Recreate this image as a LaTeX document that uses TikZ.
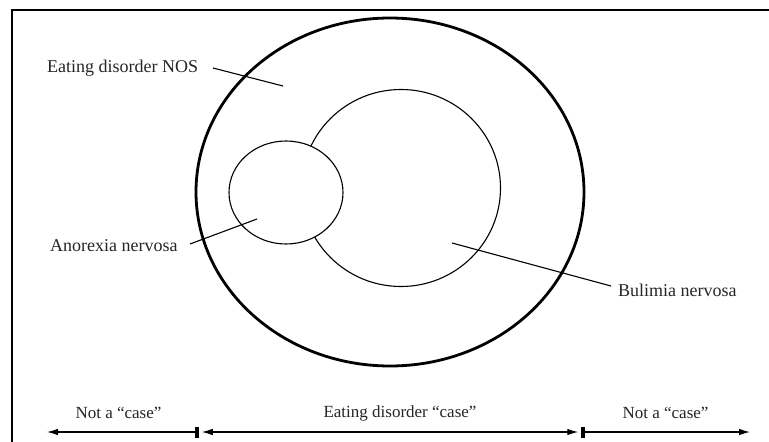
\documentclass[tikz,border=0pt]{standalone}
\usepackage{fontspec}
\setmainfont{Liberation Serif}
\usetikzlibrary{shapes.geometric,arrows.meta}
\begin{document}
\begin{tikzpicture}[x=1pt,y=-1pt,
  lbl/.style={inner sep=0pt,font=\fontsize{18}{20}\selectfont,text=black!85},
  blbl/.style={inner sep=0pt,font=\fontsize{17}{19}\selectfont,text=black!85},
  thickell/.style={ellipse,draw,line width=2.8pt,inner sep=0pt},
  thinell/.style={ellipse,draw,line width=1.1pt,inner sep=0pt,fill=white},
  leader/.style={line width=1.1pt},
  tickbar/.style={draw,fill=black,minimum width=3pt,minimum height=10pt,inner sep=0pt,line width=0.5pt},
  arr/.style={line width=1.1pt,-{Latex[length=11pt,width=6.5pt]}},
  darr/.style={line width=1.1pt,{Latex[length=11pt,width=6.5pt]}-{Latex[length=11pt,width=6.5pt]}}
]
\useasboundingbox (0,0) rectangle (769,442);
\clip (0,0) rectangle (769,442);
\fill[white] (0,0) rectangle (769,442);
\draw[line width=2pt] (12,10) rectangle (790,460);

% ellipses
\node[thickell,minimum width=388pt,minimum height=348pt] (nos) at (390,192) {};
\node[thinell,minimum width=199pt,minimum height=197pt] (bul) at (401,188) {};
\node[thinell,minimum width=114pt,minimum height=103pt] (ano) at (286,192.5) {};

% labels
\node[lbl,anchor=west] (nostxt) at (47,68) {Eating disorder NOS};
\node[lbl,anchor=west] (anotxt) at (50,246) {Anorexia nervosa};
\node[lbl,anchor=west] (bultxt) at (618,290) {Bulimia nervosa};

\coordinate (nosS) at (213,68);
\coordinate (nosE) at (283,86);
\coordinate (anoS) at (190,244);
\coordinate (anoE) at (257,219);
\coordinate (bulS) at (611,286);
\coordinate (bulE) at (452,243);
\draw[leader] (nosS) -- (nosE);
\draw[leader] (anoS) -- (anoE);
\draw[leader] (bulS) -- (bulE);

% bottom scale
\node[tickbar] (t1) at (197,432) {};
\node[tickbar] (t2) at (583,432) {};
\coordinate (lend) at (47,432);
\coordinate (rend) at (750,432);
\draw[arr] (t1) -- (lend);
\draw[arr] (t2) -- (rend);
\draw[darr,shorten <=3pt,shorten >=3pt] (t1) -- (t2);

\node[blbl] (nc1) at (118.5,413) {Not a “case”};
\node[blbl] (edc) at (400,413) {Eating disorder “case”};
\node[blbl] (nc2) at (665.5,413) {Not a “case”};
\end{tikzpicture}
\end{document}
